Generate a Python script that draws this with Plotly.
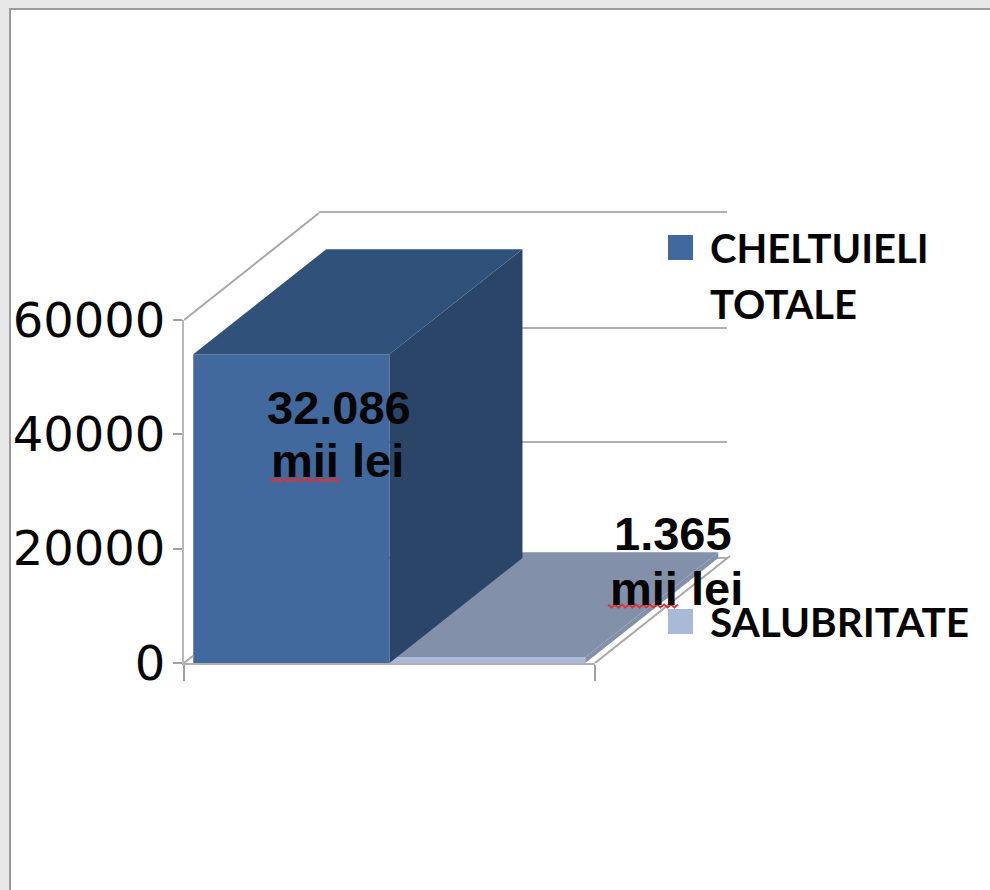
import plotly.graph_objects as go

# --- data ---
categories = ["CHELTUIELI TOTALE", "SALUBRITATE"]
values = [54000, 1000]
label_first = ["32.086", "1.365"]
label_second = ["mii lei", "mii lei"]
y_ticks = [0, 20000, 40000, 60000]
front_colors = ["#41699d", "#a9b9d8"]
side_colors = ["#2b4568", "#8390a9"]
top_colors = ["#30527a", "#8390a9"]

W, H = 990, 890
def px(x): return x / W
def py(y): return 1 - y / H

# bar slots in x-axis units (the floor runs from 0 to 2)
bar_left = [0.045, 1.0]
bar_right = [1.0, 1.953]
floor_dx, floor_dy = 0.657, 18717   # depth of the floor
bar_dx, bar_dy = 0.647, 18370       # depth of a bar

# drawing subplot shares the scale of the visible axes but has room for the depth faces
draw_x_max = (800 - 184) / (595 - 184) * 2
draw_y_max = (663 - 200) / (663 - 320) * y_ticks[-1]

fig = go.Figure()
common = dict(xaxis="x2", yaxis="y2", showlegend=False, hoverinfo="skip")

# back wall subplot carries gridlines
fig.add_trace(go.Scatter(x=[0], y=[0], mode="markers", marker=dict(opacity=0), showlegend=False, hoverinfo="skip"))

# wall edges
edge = dict(color="#a8a8a8", width=2)
fig.add_trace(go.Scatter(x=[0, floor_dx], y=[y_ticks[-1], y_ticks[-1] + floor_dy],
                         mode="lines", line=edge, **common))
fig.add_trace(go.Scatter(x=[2, 2 + floor_dx], y=[0, floor_dy], mode="lines", line=edge, **common))
fig.add_trace(go.Scatter(x=[0, bar_left[0]], y=[0, floor_dy * bar_left[0] / floor_dx],
                         mode="lines", line=edge, **common))

# front bars
fig.add_trace(go.Bar(
    x=[(l + r) / 2 for l, r in zip(bar_left, bar_right)],
    y=values,
    width=[r - l for l, r in zip(bar_left, bar_right)],
    marker=dict(color=front_colors, line=dict(width=0)),
    **common,
))

# depth faces, far bar first
for i in (1, 0):
    l, r, v = bar_left[i], bar_right[i], values[i]
    fig.add_trace(go.Scatter(
        x=[r, r + bar_dx, r + bar_dx, r, r], y=[0, bar_dy, v + bar_dy, v, 0],
        mode="lines", fill="toself", fillcolor=side_colors[i], line=dict(width=0), **common))
    fig.add_trace(go.Scatter(
        x=[l, r, r + bar_dx, l + bar_dx, l], y=[v, v, v + bar_dy, v + bar_dy, v],
        mode="lines", fill="toself", fillcolor=top_colors[i], line=dict(width=0), **common))

# visible axes subplot, on top
fig.add_trace(go.Scatter(x=[0], y=[0], xaxis="x3", yaxis="y3", mode="markers", marker=dict(opacity=0),
                         showlegend=False, hoverinfo="skip"))

shapes = [dict(type="rect", xref="paper", yref="paper", x0=px(10), x1=px(1000), y0=py(9), y1=py(900),
               fillcolor="white", line=dict(color="#9a9a9a", width=2), layer="below")]

# legend swatches
for c, top in zip(front_colors, (235, 609)):
    shapes.append(dict(type="rect", xref="paper", yref="paper", x0=px(668), x1=px(693),
                       y0=py(top), y1=py(top + 25), fillcolor=c, line=dict(width=0), layer="above"))

# red spell-check squiggles
for x0, x1, yc in ((270, 341, 480), (608, 678, 606)):
    pts, x, up = [], x0, True
    while x <= x1:
        pts.append(f"{px(x):.5f},{py(yc - 1.5 if up else yc + 1.5):.5f}")
        x += 3.5
        up = not up
    shapes.append(dict(type="path", xref="paper", yref="paper",
                       path="M " + " L ".join(pts), line=dict(color="#d8343a", width=2), layer="above"))

ann = []
def text(s, x, y, font, size, anchor="center", bold=True):
    ann.append(dict(text=f"<b>{s}</b>" if bold else s, x=px(x), y=py(y), xref="paper", yref="paper",
                    xanchor=anchor, yanchor="middle", showarrow=False,
                    font=dict(family=font, size=size, color="#050505")))

lab = "Liberation Sans"
text(label_first[0], 339, 407, lab, 47)
text(label_second[0], 337, 460, lab, 47)
text(label_first[1], 673, 533, lab, 47)
text(label_second[1], 676, 588, lab, 47)
leg = "Lato"
text("CHELTUIELI", 708, 248, leg, 40, "left")
text("TOTALE", 708, 304, leg, 40, "left")
text(categories[1], 708, 621, leg, 40.5, "left")

hidden = dict(showgrid=False, zeroline=False, showticklabels=False, ticks="", showline=False, automargin=False)
fig.update_layout(
    template="none",
    width=W, height=H, margin=dict(l=0, r=0, t=0, b=0, pad=0, autoexpand=False), autosize=False,
    paper_bgcolor="#e8e8e8", plot_bgcolor="rgba(0,0,0,0)",
    barmode="overlay", showlegend=False,
    shapes=shapes, annotations=ann,
    xaxis=dict(domain=[px(319), px(727)], range=[0, 1], showgrid=False, zeroline=False,
               showticklabels=False, ticks="", showline=True, mirror=True, linecolor="#b0b0b0", linewidth=2,
               automargin=False),
    yaxis=dict(domain=[py(557), py(213)], range=[0, y_ticks[-1]], tickvals=y_ticks, showgrid=True,
               gridcolor="#b0b0b0", gridwidth=2, zeroline=False, showticklabels=False, ticks="",
               showline=False, automargin=False),
    xaxis2=dict(domain=[px(184), px(800)], range=[0, draw_x_max], anchor="y2", **hidden),
    yaxis2=dict(domain=[py(663), py(200)], range=[0, draw_y_max], anchor="x2", **hidden),
    xaxis3=dict(domain=[px(184), px(595)], range=[0, 2], anchor="y3", tickvals=[0, 2], showgrid=False,
                zeroline=False, showticklabels=False, ticks="outside", ticklen=16, tickcolor="#a0a0a0",
                tickwidth=2, showline=True, linecolor="#b0b0b0", linewidth=2, automargin=False),
    yaxis3=dict(domain=[py(663), py(320)], range=[0, y_ticks[-1]], anchor="x3", tickvals=y_ticks,
                tickformat="d", showgrid=False, zeroline=False, ticks="outside", ticklen=9, tickcolor="#a0a0a0",
                tickwidth=2, showline=True, linecolor="#b8b8b8", linewidth=2, automargin=False,
                ticklabelstandoff=-2,
                tickfont=dict(family="DejaVu Sans", size=48, color="#050505")),
)

fig.write_html("out.html", config=dict(displayModeBar=False), post_script="document.body.style.margin='0';")
